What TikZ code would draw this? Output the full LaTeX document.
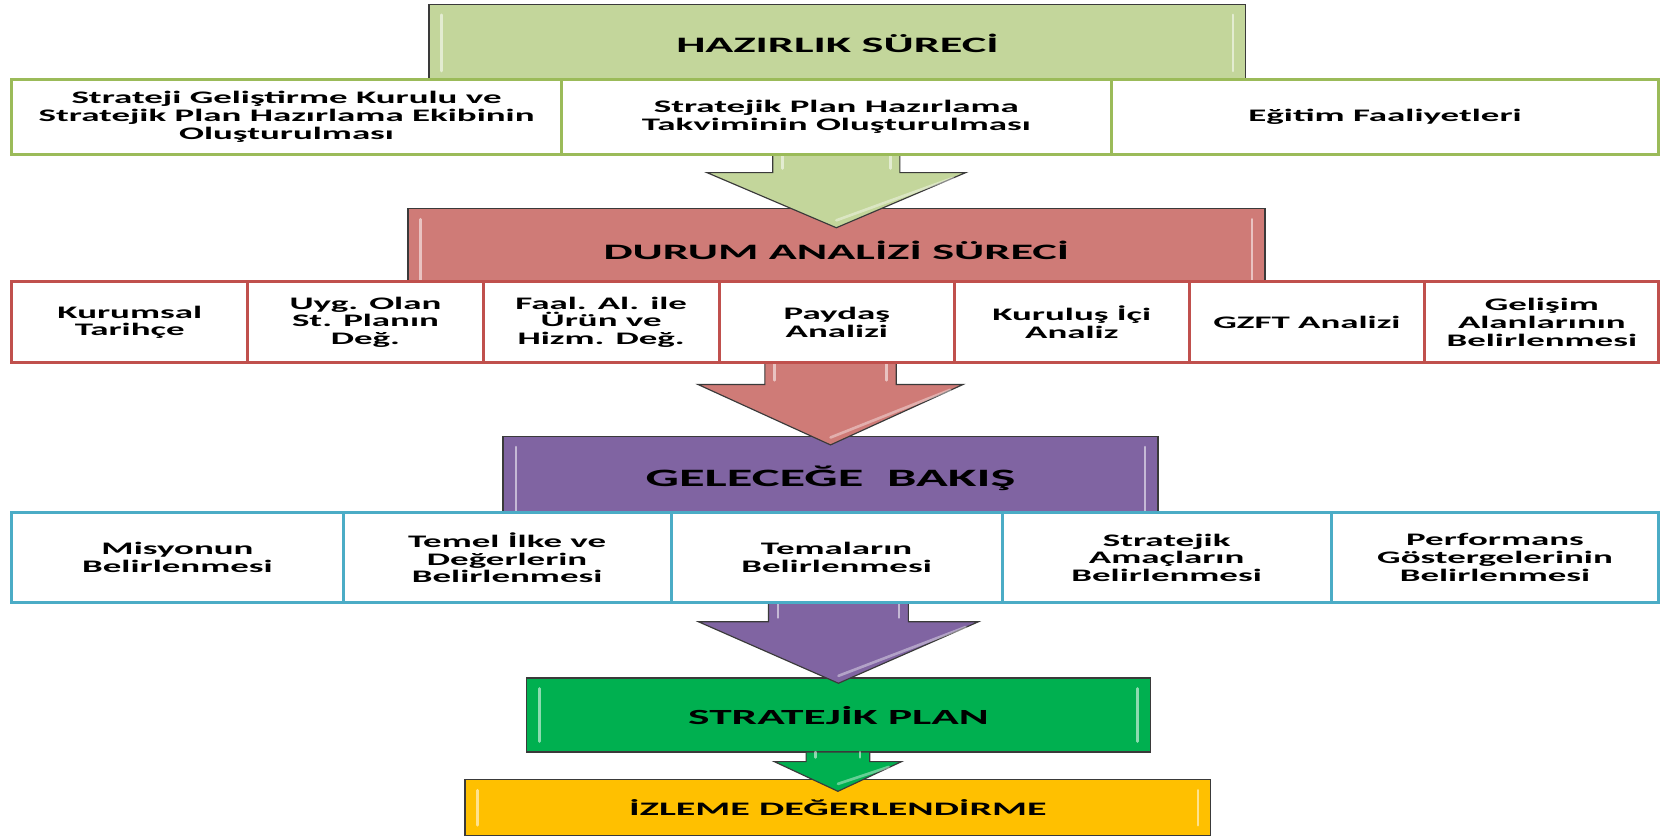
\documentclass[tikz,border=0pt]{standalone}
\usepackage{fontspec}
\newfontfamily\cb{Carlito}[FakeStretch=2.1]
\usetikzlibrary{calc}
\definecolor{hgreen}{HTML}{C3D69B}
\definecolor{hred}{HTML}{CF7B77}
\definecolor{hpurple}{HTML}{8064A2}
\definecolor{hgreentwo}{HTML}{00B050}
\definecolor{hyellow}{HTML}{FFC000}
\definecolor{bgreen}{HTML}{9BBB59}
\definecolor{bred}{HTML}{C0504D}
\definecolor{bblue}{HTML}{4BACC6}
\definecolor{hdrline}{HTML}{3A3A3A}
\tikzset{
  hdr/.style={draw=hdrline, line width=1.3pt, inner sep=0pt, outer sep=0pt, anchor=north west,
    font=\cb\bfseries\fontsize{20.8}{22}\selectfont, text=black},
  rowbox/.style={fill=white, line width=2.8pt, inner sep=2pt, outer sep=0pt, anchor=north west,
    align=center, font=\cb\bfseries\fontsize{16.6}{16.8}\selectfont, text=black},
  gbox/.style={rowbox, draw=bgreen, minimum height=70pt},
  rbox/.style={rowbox, draw=bred, minimum height=76.5pt},
  bbox/.style={rowbox, draw=bblue, minimum height=85pt},
  arrowline/.style={draw=hdrline, line width=1.1pt, line join=miter},
  shine/.style={white, opacity=0.55, line width=2.5pt, line cap=round},
}
% #1 from, #2 to, #3 colour, #4 shaft half width, #5 head half width, #6 head length, #7 overlap
\newcommand\flowarrow[7]{%
  \coordinate (tip) at ($(#2.north)+(0,#7)$);
  \coordinate (base) at (#1.south);
  \draw[arrowline, fill=#3] ($(tip|-base)+(-#4,0)$) -- ($(tip)+(-#4,-#6)$) -- ($(tip)+(-#5,-#6)$)
     -- (tip) -- ($(tip)+(#5,-#6)$) -- ($(tip)+(#4,-#6)$) -- ($(tip|-base)+(#4,0)$) -- cycle;
  \draw[shine] ($(tip|-base)+(-#4+9,0)$) -- ($(tip)+(-#4+9,-#6-4)$);
  \draw[shine] ($(tip|-base)+(#4-9,0)$) -- ($(tip)+(#4-9,-#6-4)$);
  \draw[shine, opacity=0.4] ($(tip)+(#5-12,-#6+5)$) -- ($(tip)+(0,-7)$);
}
\newcommand\hdrshine[1]{%
  \draw[shine] ($(#1.north west)+(12,10)$) -- ($(#1.south west)+(12,-10)$);
  \draw[shine] ($(#1.north east)+(-12,10)$) -- ($(#1.south east)+(-12,-10)$);
}
\begin{document}
\begin{tikzpicture}[x=1pt,y=-1pt]
\useasboundingbox[fill=white] (0,0) rectangle (1568,791);
% headers
\node[hdr, fill=hgreen, minimum width=771pt, minimum height=73pt] (h1) at (405,4) {HAZIRLIK SÜRECİ};
\node[hdr, fill=hred, minimum width=809pt, minimum height=78pt] (h2) at (385,197) {DURUM ANALİZİ SÜRECİ};
\node[hdr, fill=hpurple, minimum width=618pt, minimum height=80pt, font=\cb\bfseries\fontsize{23.6}{25}\selectfont] (h3) at (475,412) {GELECEĞE\ \ BAKIŞ};
\node[hdr, fill=hgreentwo, minimum width=589pt, minimum height=70pt, font=\cb\bfseries\fontsize{20.4}{22}\selectfont] (h4) at (497,640) {STRATEJİK PLAN};
\node[hdr, fill=hyellow, minimum width=704pt, minimum height=53pt, font=\cb\bfseries\fontsize{18}{20}\selectfont] (h5) at (439,736) {İZLEME DEĞERLENDİRME};
\hdrshine{h1}\hdrshine{h2}\hdrshine{h3}\hdrshine{h4}\hdrshine{h5}
% arrows
\flowarrow{h1}{h2}{hgreen}{60}{122}{52}{18}
\flowarrow{h2}{h3}{hred}{62}{125}{57}{8}
\flowarrow{h3}{h4}{hpurple}{66}{132}{58}{5}
\flowarrow{h4}{h5}{hgreentwo}{30}{60}{28}{11}
% green row
\node[gbox, minimum width=519pt] (g1) at (11,75.5) {Strateji Geliştirme Kurulu ve\\Stratejik Plan Hazırlama Ekibinin\\Oluşturulması};
\node[gbox, minimum width=519pt] (g2) at (530,75.5) {Stratejik Plan Hazırlama\\Takviminin Oluşturulması};
\node[gbox, minimum width=517pt] (g3) at (1049,75.5) {Eğitim Faaliyetleri};
% red row
\node[rbox, minimum width=223pt] (r1) at (11,266) {Kurumsal\\Tarihçe};
\node[rbox, minimum width=222pt] (r2) at (234,266) {Uyg. Olan\\St. Planın\\Değ.};
\node[rbox, minimum width=223pt] (r3) at (456,266) {Faal. Al. ile\\Ürün ve\\Hizm. Değ.};
\node[rbox, minimum width=222pt] (r4) at (679,266) {Paydaş\\Analizi};
\node[rbox, minimum width=221.5pt] (r5) at (901,266) {Kuruluş İçi\\Analiz};
\node[rbox, minimum width=222.5pt] (r6) at (1122.5,266) {GZFT Analizi};
\node[rbox, minimum width=221pt] (r7) at (1345,266) {Gelişim\\Alanlarının\\Belirlenmesi};
% blue row
\node[bbox, minimum width=313pt] (b1) at (11,484) {Misyonun\\Belirlenmesi};
\node[bbox, minimum width=309.5pt] (b2) at (324,484) {Temel İlke ve\\Değerlerin\\Belirlenmesi};
\node[bbox, minimum width=312.5pt] (b3) at (633.5,484) {Temaların\\Belirlenmesi};
\node[bbox, minimum width=310.6pt] (b4) at (946,484) {Stratejik\\Amaçların\\Belirlenmesi};
\node[bbox, minimum width=309.4pt] (b5) at (1256.6,484) {Performans\\Göstergelerinin\\Belirlenmesi};
\end{tikzpicture}
\end{document}
